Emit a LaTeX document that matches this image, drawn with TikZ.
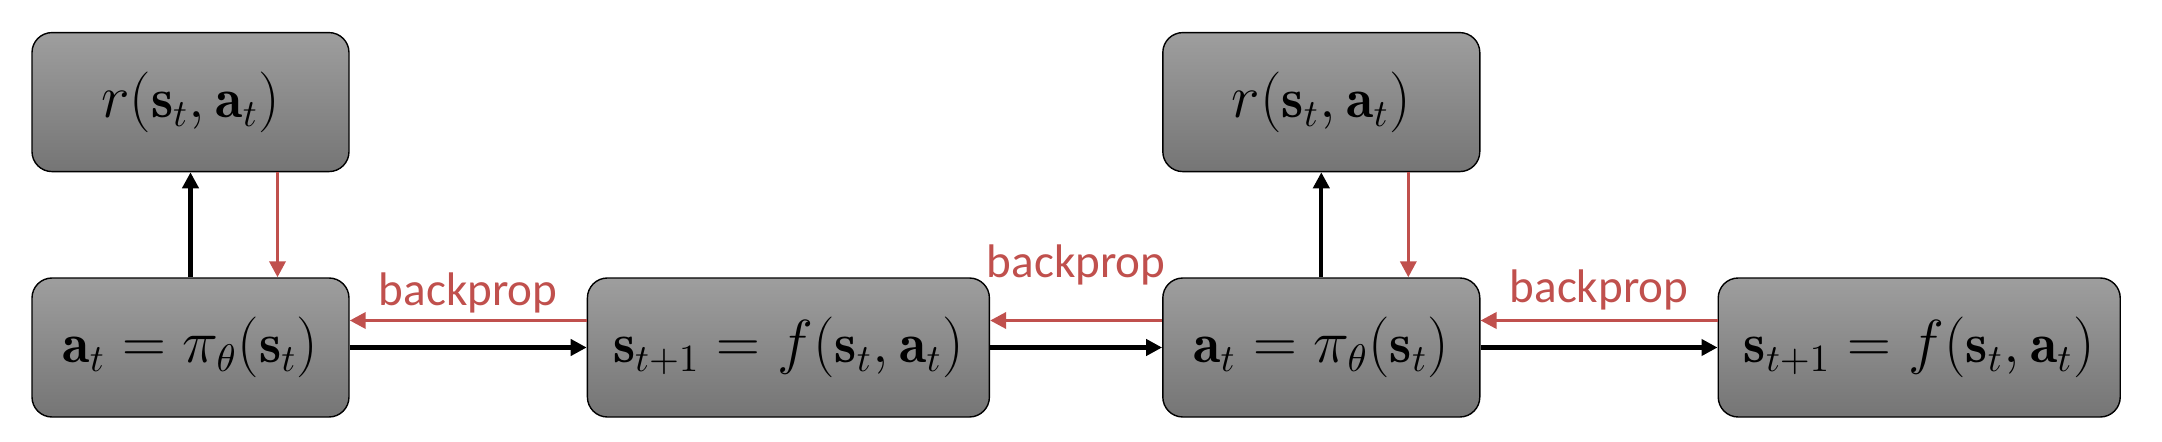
\documentclass[tikz,border=0pt]{standalone}
\usepackage{amsmath}
\usepackage{fontspec}
\newfontfamily\labelfont{Carlito}
\usetikzlibrary{arrows.meta}
\usetikzlibrary{positioning}
\definecolor{bpred}{RGB}{192,80,77}
\definecolor{boxtop}{RGB}{158,158,158}
\definecolor{boxbot}{RGB}{117,117,117}

\begin{document}
\begin{tikzpicture}[node distance=1.05cm,
	  blk/.style={rectangle,rounded corners=0.2cm,draw=black,thin,top color=boxtop,bottom color=boxbot,minimum height=1.39cm,font=\fontsize{16}{19}\selectfont},
	  act/.style={blk,minimum width=3.17cm},
	  dyn/.style={blk,minimum width=4.02cm},
	  fwd/.style={-{Triangle[length=0.16cm,width=0.16cm]},line width=1.2pt,black},
	  back/.style={-{Triangle[length=0.16cm,width=0.16cm]},line width=1pt,bpred},
	  lbl/.style={font=\labelfont\fontsize{13.4}{16}\selectfont,text=bpred,inner sep=0pt}]
	  \useasboundingbox (0,0) rectangle (21.62,-4.42);
	  \node[act] (a1) at (1.905,-3.475) {$\mathbf{a}_t = \pi_\theta(\mathbf{s}_t)$};
	  \node[act] (r1) [above=of a1] {$r(\mathbf{s}_t, \mathbf{a}_t)$};
	  \node[dyn] (s1) [right=2.37cm of a1] {$\mathbf{s}_{t+1} = f(\mathbf{s}_t, \mathbf{a}_t)$};
	  \node[act] (a2) [right=1.72cm of s1] {$\mathbf{a}_t = \pi_\theta(\mathbf{s}_t)$};
	  \node[act] (r2) [above=of a2] {$r(\mathbf{s}_t, \mathbf{a}_t)$};
	  \node[dyn] (s2) [right=2.37cm of a2] {$\mathbf{s}_{t+1} = f(\mathbf{s}_t, \mathbf{a}_t)$};
%
	  \path[fwd]
	    (a1) edge (r1)
	    (a1) edge (s1)
	    (s1) edge (a2)
	    (a2) edge (r2)
	    (a2) edge (s2);
	  \path[back]
	    ([xshift=0.87cm]r1.south) edge ([xshift=0.87cm]a1.north)
	    ([xshift=0.87cm]r2.south) edge ([xshift=0.87cm]a2.north)
	    ([yshift=0.27cm]s1.west) edge node [lbl,above=0.06cm] {backprop} ([yshift=0.27cm]a1.east)
	    ([yshift=0.27cm]a2.west) edge node [lbl,above=0.34cm] {backprop} ([yshift=0.27cm]s1.east)
	    ([yshift=0.27cm]s2.west) edge node [lbl,above=0.09cm] {backprop} ([yshift=0.27cm]a2.east);
	\end{tikzpicture}
\end{document}
